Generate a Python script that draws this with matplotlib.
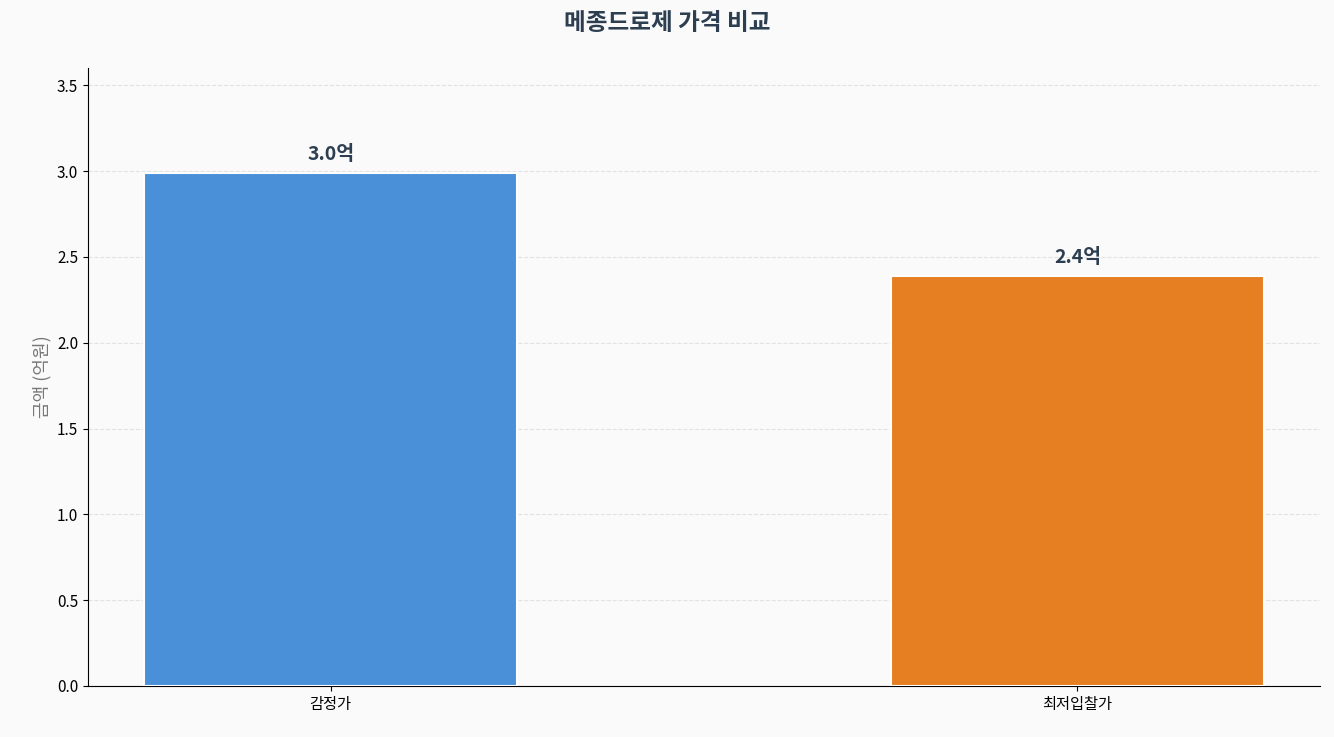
import matplotlib
matplotlib.use("Agg")
import matplotlib.pyplot as plt

plt.rcParams['font.family'] = ['Noto Sans CJK KR', 'DejaVu Sans']

categories = ['감정가', '최저입찰가']
values = [2.99, 2.39]
labels = ['3.0억', '2.4억']
colors = ['#4A90D9', '#E67E22']

fig = plt.figure(figsize=(13.34, 7.37), dpi=100, facecolor='#FAFAFA')
ax = fig.add_axes([88/1334, 1-686/737, (1320-88)/1334, (686-68)/737])
ax.set_facecolor('#FAFAFA')
bars = ax.bar(categories, values, width=0.5, color=colors, edgecolor='white', linewidth=1.5, zorder=3)
for b, l in zip(bars, labels):
    ax.text(b.get_x()+b.get_width()/2, b.get_height()+0.05, l, ha='center', va='bottom',
            fontsize=14, fontweight='bold', color='#2C3E50')
ax.set_ylim(0, 3.6)
ax.set_yticks([0, 0.5, 1.0, 1.5, 2.0, 2.5, 3.0, 3.5])
ax.yaxis.grid(True, linestyle='--', color='#DDDDDD', alpha=0.8, zorder=0)
ax.set_ylabel('금액 (억원)', fontsize=13, color='#777777')
ax.tick_params(labelsize=11)
ax.spines['top'].set_visible(False)
ax.spines['right'].set_visible(False)
fig.suptitle('메종드로제 가격 비교', fontsize=17, fontweight='bold', color='#2C3E50', y=0.985)
fig.savefig('out.png', dpi=100, facecolor='#FAFAFA')
